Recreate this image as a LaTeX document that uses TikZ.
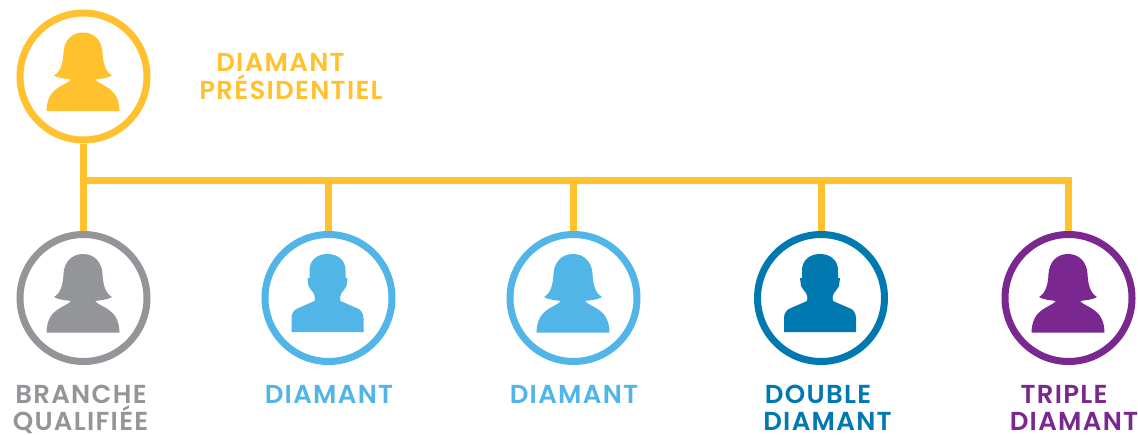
\documentclass[tikz,border=0pt]{standalone}
\usepackage{fontspec}
\setmainfont[LetterSpace=5]{Poppins SemiBold}
\definecolor{cyellow}{HTML}{FFC12E}
\definecolor{cgrey}{HTML}{939598}
\definecolor{clight}{HTML}{51B5E8}
\definecolor{cdark}{HTML}{0079B1}
\definecolor{cpurple}{HTML}{7A288F}
\tikzset{
  x=1pt,y=-1pt,
  ring/.style={circle,draw=#1,line width=7pt,minimum size=127pt,inner sep=0pt,fill=white},
  link/.style={draw=cyellow,line width=7pt},
  lab/.style={text=#1,anchor=base,inner sep=0pt,font=\fontsize{26}{26}\selectfont},
  woman/.pic={
    \fill[#1] (0,-44) .. controls (-12,-44) and (-19,-35) .. (-19.5,-24)
      .. controls (-20,-14) and (-22,-5) .. (-29,-1)
      .. controls (-24,2) and (-18,2) .. (-12,3)
      .. controls (-18,10) and (-36,10) .. (-36.5,34.5)
      -- (36.5,34.5)
      .. controls (36,10) and (18,10) .. (12,3)
      .. controls (18,2) and (24,2) .. (29,-1)
      .. controls (22,-5) and (20,-14) .. (19.5,-24)
      .. controls (19,-35) and (12,-44) .. (0,-44) -- cycle;
  },
  man/.pic={
    \fill[#1] (0,-44) .. controls (-11,-44) and (-18,-37) .. (-18,-28)
      -- (-18,-20) -- (-20,-20) -- (-19,-12)
      .. controls (-18,-9) and (-15,-7) .. (-14,-5)
      .. controls (-12.5,-1) and (-12,0) .. (-13,3)
      -- (-29,10)
      .. controls (-33,11) and (-36,15) .. (-36,20)
      -- (-36,34) -- (36,34) -- (36,20)
      .. controls (36,15) and (33,11) .. (29,10)
      -- (13,3)
      .. controls (12,0) and (12.5,-1) .. (14,-5)
      .. controls (15,-7) and (18,-9) .. (19,-12)
      -- (20,-20) -- (18,-20) -- (18,-28)
      .. controls (18,-37) and (11,-44) .. (0,-44) -- cycle;
  }
}
\begin{document}
\begin{tikzpicture}
\useasboundingbox (0,0) rectangle (1138,434);
\node[ring=cyellow] (top) at (83.5,76.5) {};
\node[ring=cgrey] (b1) at (83.5,298) {};
\node[ring=clight] (b2) at (328.5,298) {};
\node[ring=clight] (b3) at (573.5,298) {};
\node[ring=cdark] (b4) at (821,298) {};
\node[ring=cpurple] (b5) at (1068.5,298) {};
\coordinate (j1) at (83.5,180.5);
\coordinate (j2) at (328.5,180.5);
\coordinate (j3) at (573.5,180.5);
\coordinate (j4) at (821,180.5);
\coordinate (j5) at (1068.5,180.5);
\path[link] (top.south) -- (b1.north);
\path[link] (j1) -- (j5);
\path[link] (1068.5,177) -- (b5.north);
\path[link] (j2) -- (b2.north);
\path[link] (j3) -- (b3.north);
\path[link] (j4) -- (b4.north);
\pic at (83,76.5) {woman=cyellow};
\pic at (83,298) {woman=cgrey};
\pic at (327.5,298) {man=clight};
\pic at (573,298) {woman=clight};
\pic at (820,298) {man=cdark};
\pic at (1068,298) {woman=cpurple};
\node[lab=cyellow] (t1) at (280.5,71) {DIAMANT};
\node[lab=cyellow] (t2) at (291,99) {PRÉSIDENTIEL};
\node[lab=cgrey] (t3) at (81,403.5) {BRANCHE};
\node[lab=cgrey] (t4) at (80.5,430.5) {QUALIFIÉE};
\node[lab=clight] (t5) at (329,403.5) {DIAMANT};
\node[lab=clight] (t6) at (574,403.5) {DIAMANT};
\node[lab=cdark] (t7) at (818,403.5) {DOUBLE};
\node[lab=cdark] (t8) at (827.5,430.5) {DIAMANT};
\node[lab=cpurple] (t9) at (1064,403.5) {TRIPLE};
\node[lab=cpurple] (t10) at (1074,430.5) {DIAMANT};
\end{tikzpicture}
\end{document}
